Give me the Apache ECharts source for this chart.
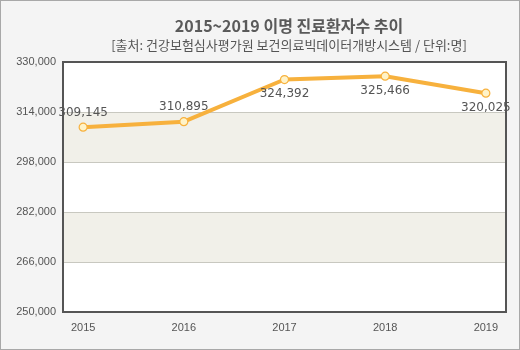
<!DOCTYPE html>
<html>
<head>
<meta charset="utf-8">
<script src="https://cdn.jsdelivr.net/npm/echarts@6/dist/echarts.min.js"></script>
<style>
  html, body { margin: 0; padding: 0; background: #f4f4f4; }
  #chart { width: 518px; height: 348px; border: 1px solid #a8a8a8; }
</style>
</head>
<body>
<div id="chart"></div>
<script>
// Tinnitus patients per year
const years = [2015, 2016, 2017, 2018, 2019];
const patients = [309145, 310895, 324392, 325466, 320025];
const labelSides = ['top', 'top', 'bottom', 'bottom', 'bottom'];
const titleText = '2015~2019 이명 진료환자수 추이';
const subText = '[출처: 건강보험심사평가원 보건의료빅데이터개방시스템 / 단위:명]';

const fmt = v => v.toLocaleString('en-US');
const axisFont = '"Liberation Sans", Arial, sans-serif';

const chart = echarts.init(document.getElementById('chart'));
chart.setOption({
  backgroundColor: '#f4f4f4',
  animation: false,
  title: {
    text: titleText,
    subtext: subText,
    left: 283, textAlign: 'center', top: 12, itemGap: 5,
    textStyle: { fontSize: 16, fontWeight: 'bold', color: '#5a5a5a', fontFamily: '"Noto Sans CJK KR", sans-serif' },
    subtextStyle: { fontSize: 13, color: '#555', fontFamily: '"Noto Sans CJK KR", sans-serif' }
  },
  grid: { left: 62, right: 13, top: 61, bottom: 37 },
  xAxis: {
    type: 'value', min: 2014.8, max: 2019.2,
    axisLine: { show: false }, axisTick: { show: false },
    splitLine: { show: false },
    axisLabel: { customValues: years, formatter: v => String(Math.round(v)), color: '#555', fontSize: 11, fontFamily: axisFont, margin: 10 }
  },
  yAxis: {
    type: 'value', min: 250000, max: 330000, interval: 16000,
    axisLine: { show: false }, axisTick: { show: false },
    axisLabel: { formatter: fmt, color: '#555', fontSize: 11, fontFamily: axisFont, margin: 7 },
    splitLine: { lineStyle: { color: '#c8c8c0', width: 1 } },
    splitArea: { show: true, areaStyle: { color: ['#ffffff', '#f1f0e9'] } }
  },
  graphic: [{
    type: 'rect', shape: { x: 62, y: 61, width: 443, height: 250 },
    style: { fill: null, stroke: '#555', lineWidth: 2 }, z: 100
  }],
  series: [{
    type: 'line',
    data: years.map((y, i) => ({ value: [y, patients[i]], label: { position: labelSides[i] } })),
    lineStyle: { color: '#f7b13d', width: 4 },
    symbol: 'circle', symbolSize: 8,
    itemStyle: { color: '#fff3c8', borderColor: '#f7b13d', borderWidth: 1.2 },
    label: { show: true, formatter: p => fmt(p.value[1]), color: '#555', fontSize: 12, fontFamily: '"DejaVu Sans", Verdana, sans-serif', distance: 4 },
    z: 10
  }]
});
</script>
</body>
</html>
